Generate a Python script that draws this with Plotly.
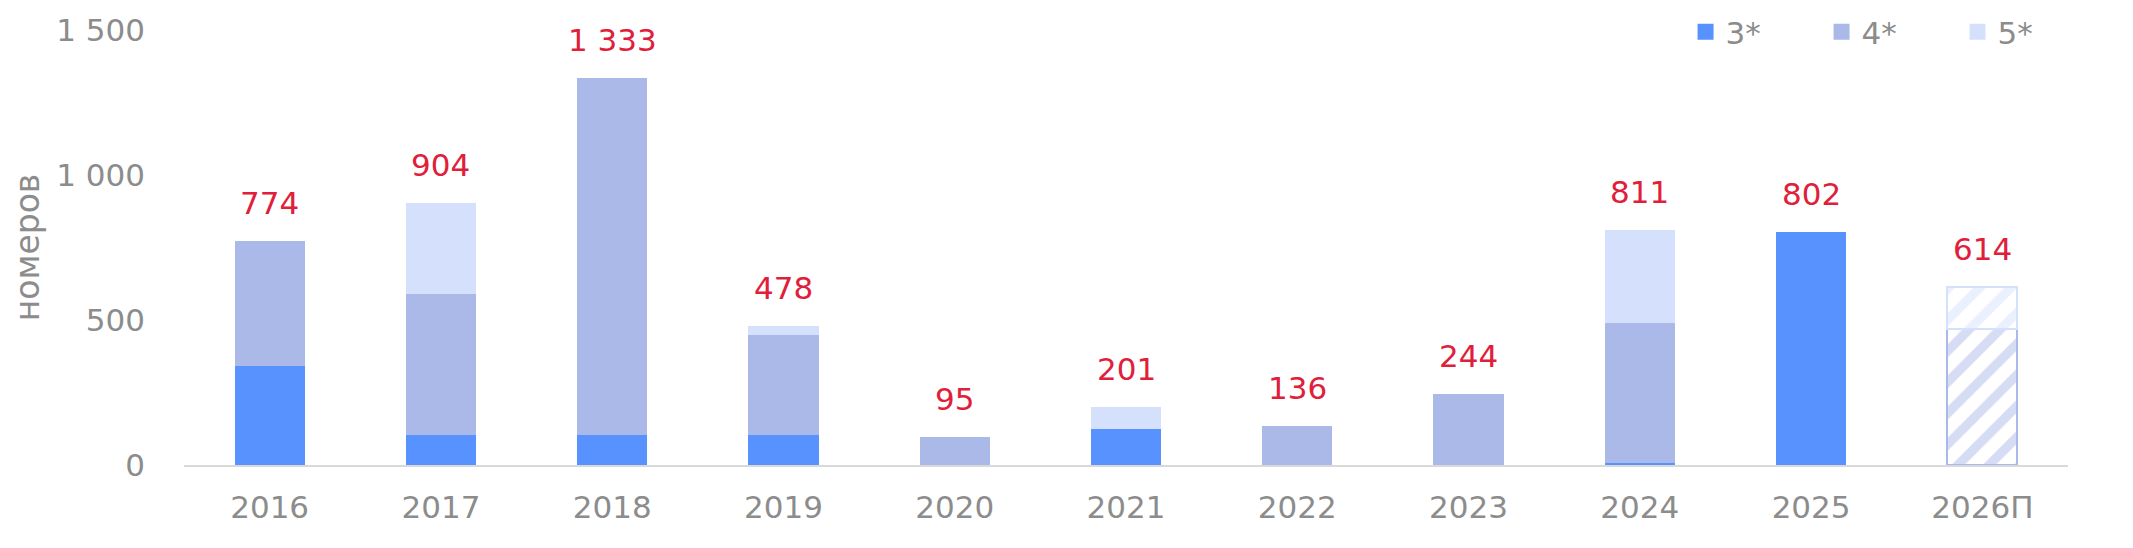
import plotly.graph_objects as go

years = ["2016", "2017", "2018", "2019", "2020", "2021", "2022", "2023", "2024", "2025", "2026П"]
stars3 = [342, 103, 105, 103, 0, 124, 0, 0, 8, 802, 0]
stars4 = [432, 487, 1228, 347, 95, 0, 136, 244, 482, 0, 470]
stars5 = [0, 314, 0, 28, 0, 77, 0, 0, 321, 0, 144]
totals = [774, 904, 1333, 478, 95, 201, 136, 244, 811, 802, 614]
total_labels = ["774", "904", "1 333", "478", "95", "201", "136", "244", "811", "802", "614"]

y_ticks = [0, 500, 1000, 1500]
y_ticktext = ["0", "500", "1 000", "1 500"]

FONT = "DejaVu Sans"
GREY = "#8c8c8c"
RED = "#e0203a"
colors = {"3*": "#5892ff", "4*": "#abb9e8", "5*": "#d5e1fc"}

forecast = [y.endswith("П") for y in years]

fig = go.Figure()
for name, vals in [("3*", stars3), ("4*", stars4), ("5*", stars5)]:
    c = colors[name]
    fig.add_trace(go.Bar(
        x=years, y=vals, name=name, showlegend=False,
        marker=dict(
            color=c,
            line=dict(color=c, width=[2 if f else 0 for f in forecast]),
            pattern=dict(
                shape=["/" if f else "" for f in forecast],
                fgcolor=c, bgcolor="white", size=22, solidity=0.42,
            ),
        ),
    ))
    # legend entry with a bigger square than the bar default
    fig.add_trace(go.Scatter(
        x=[None], y=[None], mode="markers", name=name,
        marker=dict(symbol="square", size=17, color=c),
    ))

# category index keeps "2016" etc. from being read as numbers
for i, (tot, txt) in enumerate(zip(totals, total_labels)):
    fig.add_annotation(x=i, y=tot, text=txt, showarrow=False,
                       yshift=38, yanchor="middle",
                       font=dict(family=FONT, size=31, color=RED))

# page body has an 8px margin, so margins are shifted to compensate
fig.update_layout(
    width=2133, height=548,
    barmode="stack", bargap=0.59,
    plot_bgcolor="white", paper_bgcolor="white",
    margin=dict(l=176, r=73, t=22, b=91, autoexpand=False),
    font=dict(family=FONT, color=GREY),
    legend=dict(orientation="h", x=0.797, xanchor="left", y=0.995, yanchor="middle",
                font=dict(size=31, color=GREY), traceorder="normal",
                entrywidth=91, entrywidthmode="pixels", bgcolor="rgba(0,0,0,0)"),
    xaxis=dict(type="category", showline=True, linecolor="#d9d9d9", linewidth=2,
               showgrid=False, ticks="", tickfont=dict(size=31, color=GREY),
               ticklabelstandoff=14),
    yaxis=dict(range=[0, 1500], tickvals=y_ticks, ticktext=y_ticktext,
               showgrid=False, zeroline=False, showline=False, ticks="",
               tickfont=dict(size=31, color=GREY), ticklabelstandoff=38,
               title=dict(text="номеров", font=dict(size=33, color=GREY), standoff=8)),
)

fig.write_html("out.html")
